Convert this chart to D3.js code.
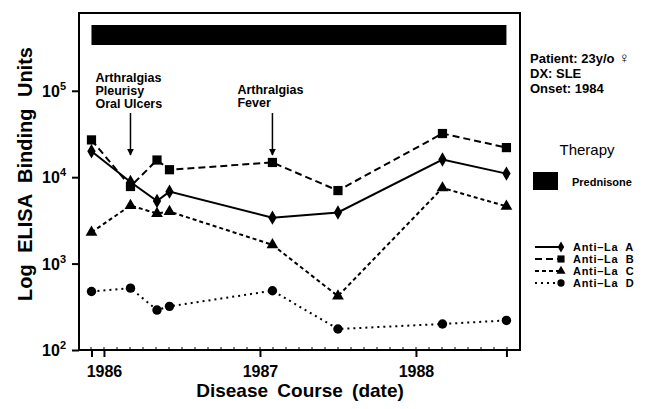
<!DOCTYPE html>
<html>
<head>
<meta charset="utf-8">
<script src="https://cdn.jsdelivr.net/npm/d3@7"></script>
<style>
  body { margin: 0; background: #fff; }
  svg { display: block; font-family: "Liberation Sans", Arial, sans-serif; }
</style>
</head>
<body>
<div id="chart"></div>
<script>
var W = 648, H = 409;

// sampling dates (decimal years) and the four series
var dates = [1985.92, 1986.17, 1986.34, 1986.42, 1987.08, 1987.50, 1988.17, 1988.58];
var antiLaA = [20000, 8800, 5300, 6800, 3400, 3900, 16000, 11000];
var antiLaB = [27000, 7800, 15800, 12200, 14800, 7000, 32000, 22000];
var antiLaC = [2300, 4700, 3800, 4000, 1650, 420, 7500, 4600];
var antiLaD = [475, 520, 290, 320, 485, 175, 200, 220];

var seriesNames = ['Anti\u2013La  A', 'Anti\u2013La  B', 'Anti\u2013La  C', 'Anti\u2013La  D'];
var yearTicks = [1986, 1987, 1988];
var yTicks = [100, 1000, 10000, 100000];
var prednisone = [1985.92, 1988.58];
var events = [
  {date: 1986.17, lines: ['Arthralgias', 'Pleurisy', 'Oral  Ulcers'], dx: -35},
  {date: 1987.08, lines: ['Arthralgias', 'Fever'], dx: -35}
];
var patientInfo = ['Patient: 23y/o', 'DX: SLE', 'Onset: 1984'];

var pl = 79, pr = 520, pt = 13, pb = 350;

var x = d3.scaleLinear().domain([1985.84, 1988.667]).range([pl, pr]);
var y = d3.scaleLog().domain([100, Math.pow(10, 5.9)]).range([pb, pt]);

var svg = d3.select('#chart').append('svg')
  .attr('width', W).attr('height', H);

// frame
svg.append('rect')
  .attr('x', pl).attr('y', pt)
  .attr('width', pr - pl).attr('height', pb - pt)
  .attr('fill', 'none').attr('stroke', '#000').attr('stroke-width', 2);

// y axis
var yAxis = d3.axisLeft(y).tickValues(yTicks).tickSize(7).tickFormat('');
var gy = svg.append('g').attr('transform', 'translate(' + pl + ',0)').call(yAxis);
gy.select('.domain').remove();
gy.selectAll('line').attr('stroke-width', 2);

yTicks.forEach(function(v) {
  var t = svg.append('text')
    .attr('x', 66).attr('y', y(v) + 6)
    .attr('text-anchor', 'end')
    .attr('font-size', 16).attr('font-weight', 'bold');
  t.append('tspan').text('10');
  t.append('tspan').attr('dy', -7).attr('font-size', 11).text(Math.round(Math.log10(v)));
});

// x axis: years, plus first/last sampling ticks
var xTickVals = yearTicks.concat([dates[0], dates[dates.length - 1]]);
var xAxis = d3.axisBottom(x).tickValues(xTickVals).tickSize(7)
  .tickFormat(function(d) { return yearTicks.indexOf(d) >= 0 ? d : ''; });
var gx = svg.append('g').attr('transform', 'translate(0,' + pb + ')').call(xAxis);
gx.select('.domain').remove();
gx.selectAll('line').attr('stroke-width', 2);
gx.selectAll('text')
  .attr('font-size', 16).attr('font-weight', 'bold')
  .attr('font-family', '"Liberation Sans", Arial, sans-serif')
  .attr('dy', '1.05em').attr('fill', '#000');

// monthly minor ticks inside the frame
var months = d3.range(1985.917, 1988.66, 1 / 12);
svg.append('g').selectAll('line').data(months).enter().append('line')
  .attr('x1', function(d) { return x(d); }).attr('x2', function(d) { return x(d); })
  .attr('y1', pb).attr('y2', pb - 3)
  .attr('stroke', '#000').attr('stroke-width', 1);

// axis titles
svg.append('text')
  .attr('x', 300).attr('y', 397)
  .attr('text-anchor', 'middle')
  .attr('font-size', 19).attr('font-weight', 'bold')
  .attr('word-spacing', 4)
  .text('Disease Course (date)');

svg.append('text')
  .attr('transform', 'translate(32,174) rotate(-90)')
  .attr('text-anchor', 'middle')
  .attr('font-size', 20).attr('font-weight', 'bold')
  .attr('word-spacing', 6)
  .text('Log ELISA Binding Units');

// prednisone bar
svg.append('rect')
  .attr('x', x(prednisone[0])).attr('y', 25)
  .attr('width', x(prednisone[1]) - x(prednisone[0])).attr('height', 20)
  .attr('fill', '#000');

// clinical events with arrows
svg.append('defs').append('marker')
  .attr('id', 'arrow').attr('viewBox', '0 0 10 10')
  .attr('refX', 9).attr('refY', 5)
  .attr('markerWidth', 7).attr('markerHeight', 9)
  .attr('markerUnits', 'userSpaceOnUse')
  .attr('orient', 'auto')
  .append('path').attr('d', 'M0,0 L10,5 L0,10 Z').attr('fill', '#000');

events.forEach(function(ev, i) {
  var tx = x(ev.date) + ev.dx;
  var base = i === 0 ? 82 : 94;
  var t = svg.append('text')
    .attr('font-size', 12.5).attr('font-weight', 'bold');
  ev.lines.forEach(function(l, k) {
    t.append('tspan').attr('x', tx).attr('y', base + k * 13).text(l);
  });
  svg.append('line')
    .attr('x1', x(ev.date)).attr('x2', x(ev.date))
    .attr('y1', 113).attr('y2', 155)
    .attr('stroke', '#000').attr('stroke-width', 1.5)
    .attr('marker-end', 'url(#arrow)');
});

// series
var series = [
  {name: seriesNames[0], values: antiLaA, dash: null, shape: d3.symbolDiamond, size: 60},
  {name: seriesNames[1], values: antiLaB, dash: '7,4', shape: d3.symbolSquare, size: 85},
  {name: seriesNames[2], values: antiLaC, dash: '4,3', shape: d3.symbolTriangle, size: 60},
  {name: seriesNames[3], values: antiLaD, dash: '2,4', shape: d3.symbolCircle, size: 70}
];

var line = d3.line()
  .x(function(d, i) { return x(dates[i]); })
  .y(function(d) { return y(d); });

series.forEach(function(s) {
  svg.append('path')
    .attr('d', line(s.values))
    .attr('fill', 'none').attr('stroke', '#000').attr('stroke-width', 2)
    .attr('stroke-dasharray', s.dash);
  svg.append('g').selectAll('path').data(s.values).enter().append('path')
    .attr('d', d3.symbol().type(s.shape).size(s.size))
    .attr('transform', function(d, i) { return 'translate(' + x(dates[i]) + ',' + y(d) + ')'; })
    .attr('fill', '#000');
});

// patient info
patientInfo.forEach(function(txt, i) {
  var t = svg.append('text')
    .attr('x', 530).attr('y', 63 + i * 15)
    .attr('font-size', 13).attr('font-weight', 'bold')
    .text(txt);
  if (i === 0) t.append('tspan').attr('dx', 4).attr('font-size', 15).text('\u2640');
});

// therapy legend
svg.append('text')
  .attr('x', 587).attr('y', 155)
  .attr('text-anchor', 'middle')
  .attr('font-size', 15)
  .text('Therapy');
svg.append('rect')
  .attr('x', 533).attr('y', 172).attr('width', 25).attr('height', 18)
  .attr('fill', '#000');
svg.append('text')
  .attr('x', 572).attr('y', 186)
  .attr('font-size', 11).attr('font-weight', 'bold')
  .text('Prednisone');

// series legend
var lg = svg.append('g').attr('transform', 'translate(535,247)');
series.forEach(function(s, i) {
  var row = lg.append('g').attr('transform', 'translate(0,' + (i * 12) + ')');
  row.append('line')
    .attr('x1', 0).attr('x2', 25).attr('y1', 0).attr('y2', 0)
    .attr('stroke', '#000').attr('stroke-width', 2)
    .attr('stroke-dasharray', s.dash);
  row.append('path')
    .attr('d', d3.symbol().type(s.shape).size(s.size * 0.6))
    .attr('transform', 'translate(26,0)')
    .attr('fill', '#000');
  row.append('text')
    .attr('x', 38).attr('y', 4)
    .attr('font-size', 11).attr('font-weight', 'bold')
    .attr('letter-spacing', 0.7)
    .style('white-space', 'pre')
    .text(s.name);
});
</script>
</body>
</html>
